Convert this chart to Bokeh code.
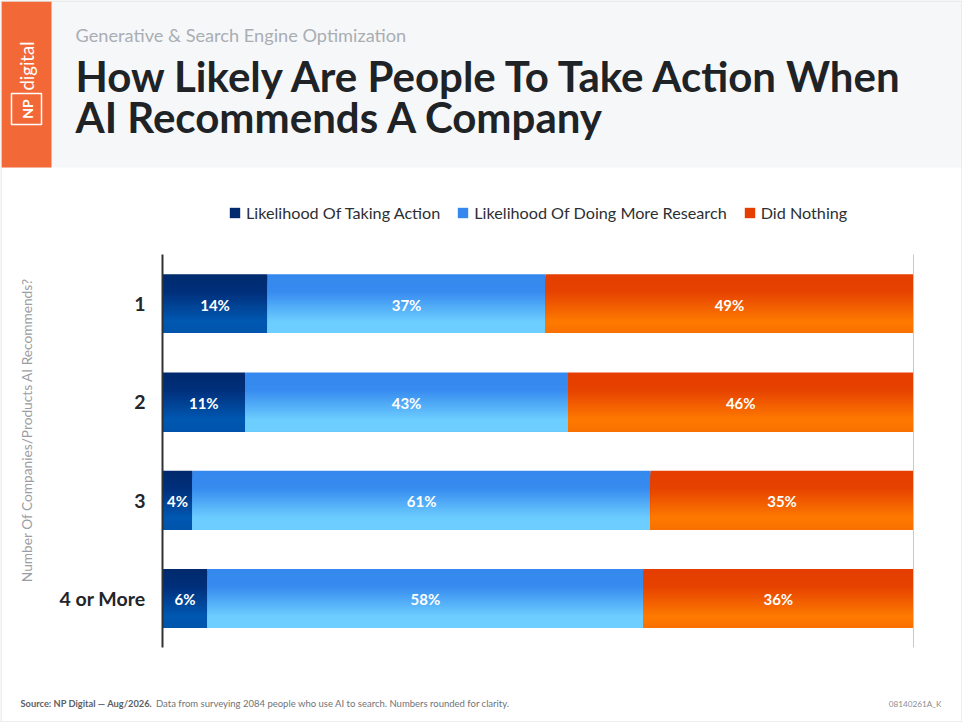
from bokeh.embed import file_html
from bokeh.resources import INLINE
from bokeh.plotting import figure
from bokeh.core.properties import value
from bokeh.models import (ColumnDataSource, Range1d, FixedTicker, Label, LabelSet, BoxAnnotation,
                          Legend, LegendItem)
import numpy as np

categories = ["1", "2", "3", "4 or More"]
series_names = ["Likelihood Of Taking Action", "Likelihood Of Doing More Research", "Did Nothing"]
taking_action = [14, 11, 4, 6]
more_research = [37, 43, 61, 58]
did_nothing = [49, 46, 35, 36]

W, H = 962, 722
L, R, T, B = 162, 49, 254, 75     # chart area inside the canvas
ux = (W - L - R) / 100
uy = (H - T - B) / len(categories)
FONT = "Lato"
slot = [len(categories) - 0.5 - i for i in range(len(categories))]

p = figure(width=W, height=H, output_backend="svg", toolbar_location=None,
           x_range=Range1d(-L / ux, 100 + R / ux), y_range=Range1d(-B / uy, len(categories) + T / uy),
           x_axis_location=None, min_border=0,
           outline_line_color=None, background_fill_color="white", border_fill_color="white",
           styles={"position": "absolute", "left": "0px", "top": "0px"})
p.grid.visible = False
ax = p.yaxis[0]
ax.fixed_location = 0
ax.bounds = (0, len(categories))
ax.ticker = FixedTicker(ticks=slot)
ax.major_label_overrides = {s: c for s, c in zip(slot, categories)}
ax.major_tick_line_color = None
ax.minor_tick_line_color = None
ax.axis_line_color = "#2f3336"
ax.axis_line_width = 2
ax.major_label_text_font = FONT
ax.major_label_text_font_style = "bold"
ax.major_label_text_font_size = "19.5px"
ax.major_label_text_color = "#222529"
ax.major_label_standoff = 11

def box(l, t, r, b, fill=None, line=None, lw=1, level="underlay"):
    p.add_layout(BoxAnnotation(left=l, right=r, top=t, bottom=b,
                               left_units="canvas", right_units="canvas", top_units="canvas", bottom_units="canvas",
                               fill_color=fill, fill_alpha=1 if fill else 0,
                               line_color=line, line_alpha=1 if line else 0, line_width=lw, level=level))

def text(x, y, s, size, color, style="normal", align="left", angle=0):
    p.add_layout(Label(x=x, y=y, x_units="canvas", y_units="canvas", text=s, text_font=FONT,
                       text_font_size=f"{size}px", text_color=color, text_font_style=style,
                       text_align=align, text_baseline="middle", angle=angle, angle_units="deg"))

# page furniture
box(1, 1, 961, 167, fill="#f6f7f9")
box(1, 1, 51, 167, fill="#f26937")
box(0.5, 0.5, 961.5, 721.5, line="#d9dbdd", lw=1)
box(11, 93, 41, 124, line="white", lw=1.5)
text(27, 108.5, "NP", 14, "white", "bold", "center", 90)
text(26, 65.5, "digital", 18.5, "white", "normal", "center", 90)
text(75, 34.5, "Generative & Search Engine Optimization", 18.2, "#a9aeb3")
text(75, 75.5, "How Likely Are People To Take Action When", 42, "#202326", "bold")
text(75, 116, "AI Recommends A Company", 42, "#202326", "bold")
text(25.5, 429.5, "Number Of Companies/Products AI Recommends?", 13.7, "#9a9ea3", "normal", "center", 90)
text(20, 703, "Source: NP Digital \u2014 Aug/2026.", 9.3, "#5c6065", "bold")
text(155.5, 703, "Data from surveying 2084 people who use AI to search. Numbers rounded for clarity.", 9.5, "#6f7378")
text(941, 703, "08140261A_K", 8.2, "#8a8e93", "normal", "right")

# bars: vertical gradient painted top to bottom, each layer reaching the bar's lower edge
BAR = 0.6
N = 30
stops = [0, 0.3, 0.8, 1]
ramps = [
    ["#002a6c", "#002f7a", "#0058b2", "#0054aa"],
    ["#3589ee", "#378bef", "#6ccdff", "#6dcfff"],
    ["#e53e00", "#e64200", "#fe7a00", "#f87000"],
]
def rgb(h): return [int(h[i:i + 2], 16) for i in (1, 3, 5)]
def ramp(cols, t):
    c = [np.interp(t, stops, [rgb(k)[i] for k in cols]) for i in range(3)]
    return "#%02x%02x%02x" % tuple(int(round(v)) for v in c)

lefts = [0, 0, 0, 0]
all_series = [taking_action, more_research, did_nothing]
label_x, label_y, label_t = [], [], []
legend_renderers = []
for vals, cols in zip(all_series, ramps):
    rights = [a + b for a, b in zip(lefts, vals)]
    for i in range(N):
        h = BAR * (1 - i / N)
        off = BAR / 2 - i * BAR / N - h / 2
        src = ColumnDataSource(dict(y=[s + off for s in slot], left=lefts, right=rights))
        r = p.hbar(y="y", left="left", right="right", height=h, source=src,
                   fill_color=ramp(cols, (i + 0.5) / N), line_color=None)
        if i == 0:
            legend_renderers.append(r)
    for s, a, b, v in zip(slot, lefts, rights, vals):
        label_x.append((a + b) / 2); label_y.append(s); label_t.append(f"{v}%")
    lefts = rights

p.segment(x0=[100], x1=[100], y0=[0], y1=[len(categories)], line_color="#c4c9d0", line_width=1)
p.add_layout(LabelSet(x="x", y="y", text="t", source=ColumnDataSource(dict(x=label_x, y=label_y, t=label_t)),
                      text_color="white", text_font=value(FONT), text_font_style="bold", text_font_size="15px",
                      text_align="center", text_baseline="middle", y_offset=-1))

# legend
items = [LegendItem(label=n, renderers=[r]) for n, r in zip(series_names, legend_renderers)]
lg = Legend(items=items, orientation="horizontal", location=(228, H - 222), padding=0, margin=0,
            spacing=16, label_standoff=5, glyph_width=13, glyph_height=13, border_line_color=None,
            background_fill_alpha=0, label_text_font=FONT, label_text_font_size="16.2px", label_text_color="#2c2f33",
            label_height=14)
p.add_layout(lg, "center")

open("out.html", "w").write(file_html(p, INLINE))
